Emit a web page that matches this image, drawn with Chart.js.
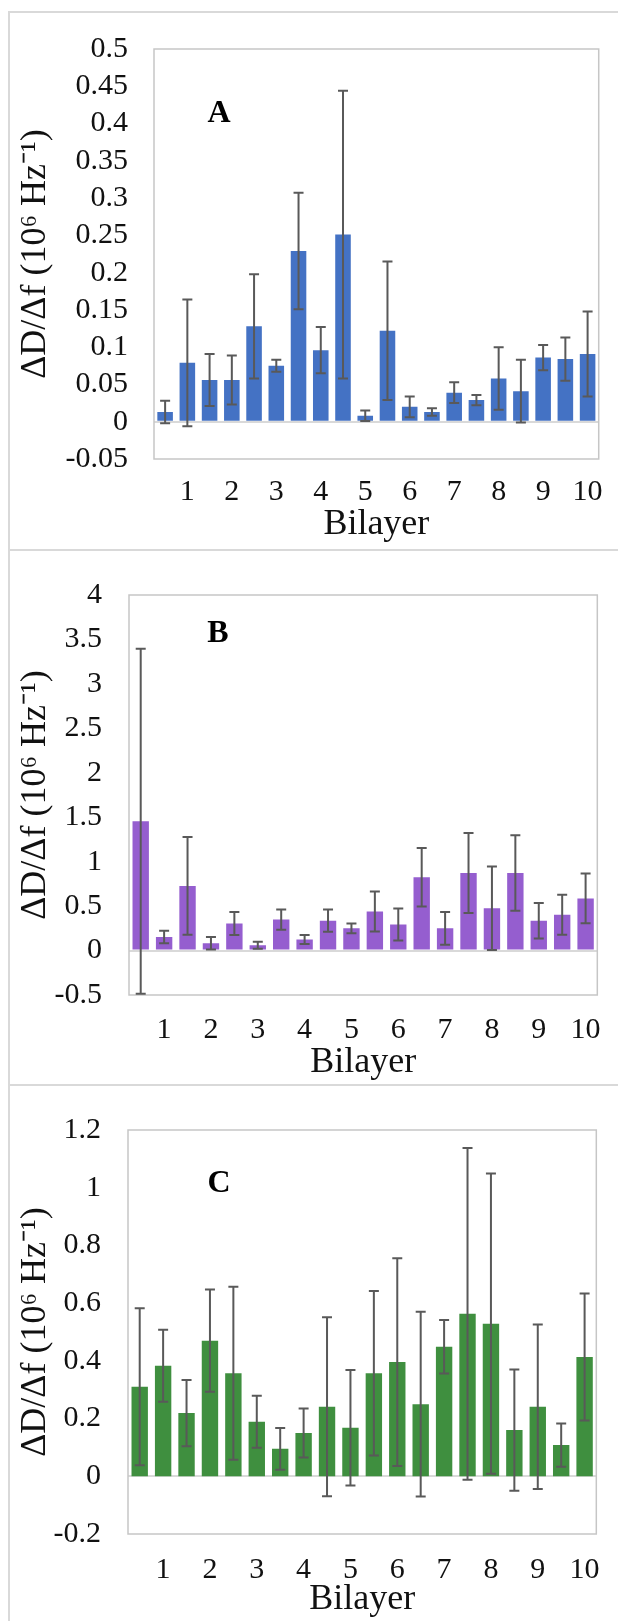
<!DOCTYPE html>
<html>
<head>
<meta charset="utf-8">
<script src="https://cdn.jsdelivr.net/npm/chart.js@4.4.0/dist/chart.umd.min.js"></script>
<style>
  body { margin: 0; background: #fff; }
  #wrap { position: relative; width: 618px; height: 1621px; overflow: hidden; }
  canvas { position: absolute; left: 0; }
  .line { position: absolute; background: #d9d9d9; }
</style>
</head>
<body>
<div id="wrap">
  <div class="line" style="left:8px; top:11px; width:2px; height:1610px;"></div>
  <div class="line" style="left:8px; top:11px; width:610px; height:2px;"></div>
  <div class="line" style="left:8px; top:549px; width:610px; height:2px;"></div>
  <div class="line" style="left:8px; top:1084px; width:610px; height:2px;"></div>
  <canvas id="chartA" width="618" height="550" style="top:0px"></canvas>
  <canvas id="chartB" width="618" height="535" style="top:550px"></canvas>
  <canvas id="chartC" width="618" height="536" style="top:1085px"></canvas>
</div>
<script>
// Bilayer labels: two bars per bilayer, label under the second one
const bilayerLabels = ['', '1', '', '2', '', '3', '', '4', '', '5', '', '6', '', '7', '', '8', '', '9', '', '10'];

// Panel A
const valuesA = [0.013, 0.079, 0.056, 0.056, 0.128, 0.075, 0.229, 0.096, 0.251, 0.008, 0.122, 0.020, 0.013, 0.039, 0.029, 0.058, 0.041, 0.086, 0.084, 0.091];
const errorsA = [0.015, 0.085, 0.035, 0.033, 0.070, 0.008, 0.078, 0.031, 0.193, 0.007, 0.093, 0.014, 0.005, 0.014, 0.007, 0.042, 0.042, 0.017, 0.029, 0.057];

// Panel B
const valuesB = [1.455, 0.152, 0.727, 0.082, 0.305, 0.059, 0.348, 0.125, 0.336, 0.25, 0.438, 0.293, 0.825, 0.25, 0.872, 0.477, 0.872, 0.336, 0.403, 0.587];
const errorsB = [1.94, 0.07, 0.55, 0.07, 0.13, 0.04, 0.115, 0.05, 0.125, 0.055, 0.225, 0.18, 0.33, 0.185, 0.45, 0.47, 0.425, 0.2, 0.225, 0.28];

// Panel C
const valuesC = [0.310, 0.383, 0.219, 0.470, 0.357, 0.189, 0.095, 0.150, 0.241, 0.168, 0.357, 0.396, 0.250, 0.449, 0.563, 0.529, 0.160, 0.241, 0.108, 0.413];
const errorsC = [0.272, 0.125, 0.115, 0.177, 0.30, 0.09, 0.072, 0.085, 0.31, 0.20, 0.285, 0.36, 0.32, 0.093, 0.575, 0.52, 0.21, 0.285, 0.075, 0.22];

const yTitle = 'ΔD/Δf (10⁶ Hz⁻¹)';
const xTitle = 'Bilayer';

Chart.defaults.font.family = "'Liberation Serif', 'Times New Roman', serif";
Chart.defaults.color = '#111';

// Draws symmetric error bars on top of the bars
const errorBarsPlugin = {
    id: 'errorBars',
    afterDatasetsDraw(chart, args, opts) {
        const ctx = chart.ctx;
        const yScale = chart.scales.y;
        const values = chart.data.datasets[0].data;
        const bars = chart.getDatasetMeta(0).data;
        ctx.save();
        ctx.strokeStyle = '#595959';
        ctx.lineWidth = 2;
        bars.forEach((bar, i) => {
            const err = opts.errors[i];
            const yTop = yScale.getPixelForValue(values[i] + err);
            const yBot = yScale.getPixelForValue(values[i] - err);
            const half = opts.capWidth / 2;
            ctx.beginPath();
            ctx.moveTo(bar.x, yTop);
            ctx.lineTo(bar.x, yBot);
            ctx.moveTo(bar.x - half, yTop);
            ctx.lineTo(bar.x + half, yTop);
            ctx.moveTo(bar.x - half, yBot);
            ctx.lineTo(bar.x + half, yBot);
            ctx.stroke();
        });
        ctx.restore();
    }
};

// Box around the plot area and the panel letter
const framePlugin = {
    id: 'frame',
    beforeDatasetsDraw(chart) {
        const a = chart.chartArea;
        const ctx = chart.ctx;
        ctx.save();
        ctx.strokeStyle = '#c6c6c6';
        ctx.lineWidth = 1.5;
        ctx.strokeRect(a.left, a.top, a.right - a.left, a.bottom - a.top);
        ctx.restore();
    },
    afterDraw(chart, args, opts) {
        const a = chart.chartArea;
        const ctx = chart.ctx;
        ctx.save();
        ctx.font = "bold 32px 'Liberation Serif', serif";
        ctx.fillStyle = '#000';
        ctx.textAlign = 'center';
        ctx.textBaseline = 'middle';
        ctx.fillText(opts.letter, a.left + opts.dx, a.top + opts.dy);
        ctx.restore();
    }
};

function makePanel(id, values, errors, color, axis, layout) {
    return new Chart(document.getElementById(id), {
        type: 'bar',
        data: {
            labels: bilayerLabels,
            datasets: [{ data: values, backgroundColor: color, categoryPercentage: 1, barPercentage: 0.7 }]
        },
        options: {
            responsive: false,
            animation: false,
            layout: { padding: { top: layout.top, right: 16, left: 0, bottom: 0 } },
            plugins: {
                legend: { display: false },
                tooltip: { enabled: false },
                errorBars: { errors: errors, capWidth: 10 },
                frame: { letter: layout.letter, dx: layout.letterDx, dy: layout.letterDy }
            },
            scales: {
                x: {
                    grid: { display: false, drawTicks: false },
                    border: { display: false },
                    ticks: { autoSkip: false, maxRotation: 0, padding: layout.xTickPad, font: { size: 30 } },
                    title: { display: true, text: xTitle, font: { size: 36 }, padding: { top: 0, bottom: layout.xTitlePad } },
                    afterFit: s => { s.height = layout.xHeight; }
                },
                y: {
                    min: axis.min,
                    max: axis.max,
                    grid: {
                        drawTicks: false,
                        color: c => Math.abs(c.tick.value) < 1e-9 ? '#d9d9d9' : 'rgba(0,0,0,0)',
                        lineWidth: 2
                    },
                    border: { display: false },
                    ticks: {
                        stepSize: axis.step,
                        autoSkip: false,
                        padding: layout.yTickPad,
                        font: { size: 30 },
                        callback: v => String(Math.round(v * 100) / 100)
                    },
                    title: { display: true, text: yTitle, font: { size: 36 }, padding: { top: 14, bottom: 0 } },
                    afterFit: s => { s.width = layout.yWidth; }
                }
            }
        },
        plugins: [errorBarsPlugin, framePlugin]
    });
}

makePanel('chartA', valuesA, errorsA, '#4472c4',
    { min: -0.05, max: 0.5, step: 0.05 },
    { top: 49, yWidth: 154, xHeight: 91, xTickPad: 15, xTitlePad: 4, yTickPad: 26, letter: 'A', letterDx: 65, letterDy: 65 });

makePanel('chartB', valuesB, errorsB, '#955ecf',
    { min: -0.5, max: 4, step: 0.5 },
    { top: 32, yWidth: 129, xHeight: 90, xTickPad: 17, xTitlePad: 1, yTickPad: 27, letter: 'B', letterDx: 89, letterDy: 39 });

makePanel('chartC', valuesC, errorsC, '#3f8f3f',
    { min: -0.2, max: 1.2, step: 0.2 },
    { top: 33, yWidth: 128, xHeight: 87, xTickPad: 18, xTitlePad: 0, yTickPad: 27, letter: 'C', letterDx: 91, letterDy: 54 });
</script>
</body>
</html>
